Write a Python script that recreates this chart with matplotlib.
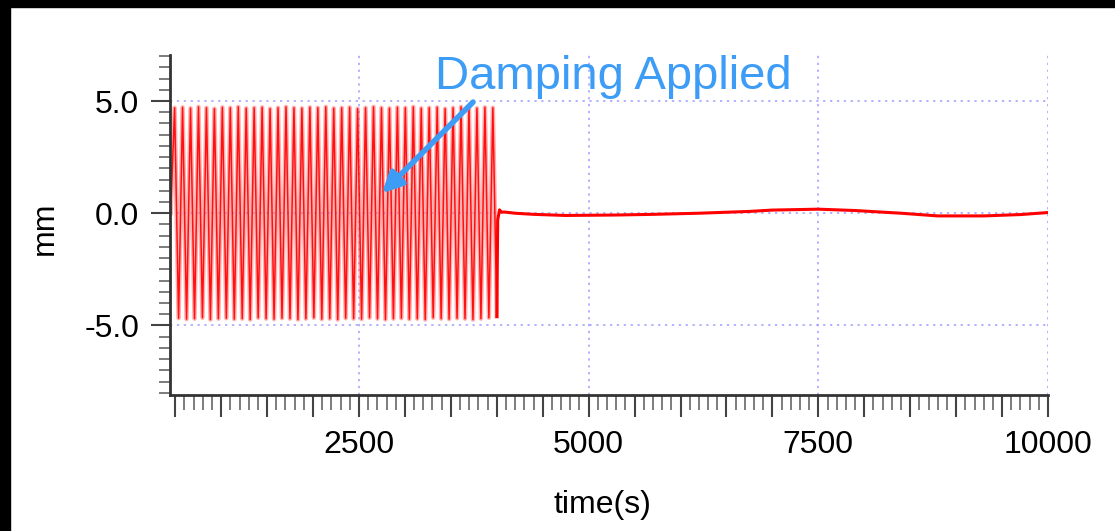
import numpy as np
import matplotlib
matplotlib.use('Agg')
from matplotlib import pyplot as plt
from matplotlib.patches import Rectangle
from matplotlib.ticker import MultipleLocator, FixedLocator, FuncFormatter

# --- data ---
osc_start = 450.0        # s, first turning point
osc_half_period = 43.3   # s, spacing of peaks/troughs
osc_peaks = [4.70, 4.72, 4.68, 4.74, 4.70, 4.66, 4.72, 4.70, 4.74, 4.68,
             4.70, 4.72, 4.66, 4.70, 4.74, 4.70, 4.68, 4.72, 4.70, 4.74,
             4.68, 4.70, 4.72, 4.66, 4.70, 4.74, 4.70, 4.68, 4.72, 4.70,
             4.74, 4.68, 4.70, 4.72, 4.66, 4.70, 4.74, 4.70, 4.68, 4.72, 4.70]
osc_troughs = [-4.68, -4.72, -4.70, -4.66, -4.74, -4.70, -4.68, -4.72, -4.70, -4.74,
               -4.66, -4.70, -4.72, -4.68, -4.70, -4.74, -4.70, -4.66, -4.72, -4.70,
               -4.74, -4.68, -4.70, -4.72, -4.66, -4.70, -4.74, -4.70, -4.68, -4.72,
               -4.70, -4.74, -4.66, -4.70, -4.72, -4.68, -4.70, -4.74, -4.70, -4.66, -4.60]

damp_t = [4010, 4030, 4050, 4090, 4200, 4400, 4750, 5300, 5700, 6200, 6750,
          7000, 7500, 7900, 8400, 8800, 9300, 9700, 10000]
damp_y = [-0.30, 0.15, 0.05, 0.05, 0.00, -0.05, -0.10, -0.08, -0.05, 0.00, 0.08,
          0.14, 0.18, 0.12, 0.00, -0.12, -0.12, -0.06, 0.03]

x_labels = [2500, 5000, 7500, 10000]
y_labels = [-5.0, 0.0, 5.0]

# zigzag through the turning points
osc_y = [0.0]
for p, t in zip(osc_peaks, osc_troughs):
    osc_y += [p, t]
osc_t = osc_start + osc_half_period * np.arange(len(osc_y))

plt.rcParams['font.family'] = ['Liberation Sans', 'DejaVu Sans']

fig = plt.figure(figsize=(11.15, 5.31), dpi=100)
fig.patches.append(Rectangle((0, 1 - 7 / 531), 1, 7 / 531, transform=fig.transFigure,
                             color='black', zorder=10))
fig.patches.append(Rectangle((0, 0), 10 / 1115, 1, transform=fig.transFigure,
                             color='black', zorder=10))

ax = fig.add_axes([170 / 1115, 136 / 531, 878 / 1115, 340 / 531])

grid_kw = dict(color='#9f9fff', linestyle=(0, (1.5, 3)), linewidth=1.1, zorder=0)
for yv in y_labels:
    ax.axhline(yv, **grid_kw)
for xv in x_labels:
    ax.axvline(xv, **grid_kw)

# soft pink band under a sharper red trace, like the blurred original
ax.plot(osc_t, osc_y, color='#ff7070', linewidth=3.2, alpha=0.55)
ax.plot(osc_t, osc_y, color='#ff0000', linewidth=1.1, alpha=0.9)
ax.plot([osc_t[-1]] + damp_t, [osc_y[-1]] + damp_y, color='#ff0000', linewidth=2.2)

ax.set_xlim(443, 10000)
ax.set_ylim(-8.1, 7.05)

for s in ['top', 'right']:
    ax.spines[s].set_visible(False)
for s in ['left', 'bottom']:
    ax.spines[s].set_color('#333333')
    ax.spines[s].set_linewidth(2)

ax.xaxis.set_major_locator(MultipleLocator(500))
ax.xaxis.set_minor_locator(MultipleLocator(100))
ax.xaxis.set_major_formatter(FuncFormatter(lambda v, p: '%d' % v if v in x_labels else ''))
ax.yaxis.set_major_locator(FixedLocator(y_labels))
ax.yaxis.set_minor_locator(MultipleLocator(0.5))
ax.yaxis.set_major_formatter(FuncFormatter(lambda v, p: '%.1f' % v))

ax.tick_params(axis='x', which='major', length=16, width=1.5, color='#444444',
               labelsize=23, pad=9)
ax.tick_params(axis='x', which='minor', length=11, width=1.2, color='#666666')
ax.tick_params(axis='y', which='major', length=14, width=1.5, color='#444444',
               labelsize=23, pad=8)
ax.tick_params(axis='y', which='minor', length=8, width=1.2, color='#666666')
for tk in ax.xaxis.get_major_ticks():
    if tk.get_loc() in x_labels:
        tk.tick1line.set_markersize(21)

ax.set_xlabel('time(s)', fontsize=23, va='center')
ax.xaxis.set_label_coords(0.493, -0.324)
ax.set_ylabel('mm', fontsize=23, va='center')
ax.yaxis.set_label_coords(-0.142, 0.49)

ax.text(5265, 6.05, 'Damping Applied', color='#3d9cf5', fontsize=34,
        ha='center', va='center', clip_on=False)
ax.annotate('', xy=(2729, 0.8), xytext=(3763, 5.04),
            arrowprops=dict(arrowstyle='-|>', color='#3d9cf5', lw=4, mutation_scale=30),
            annotation_clip=False)

fig.savefig('out.png', dpi=100)
